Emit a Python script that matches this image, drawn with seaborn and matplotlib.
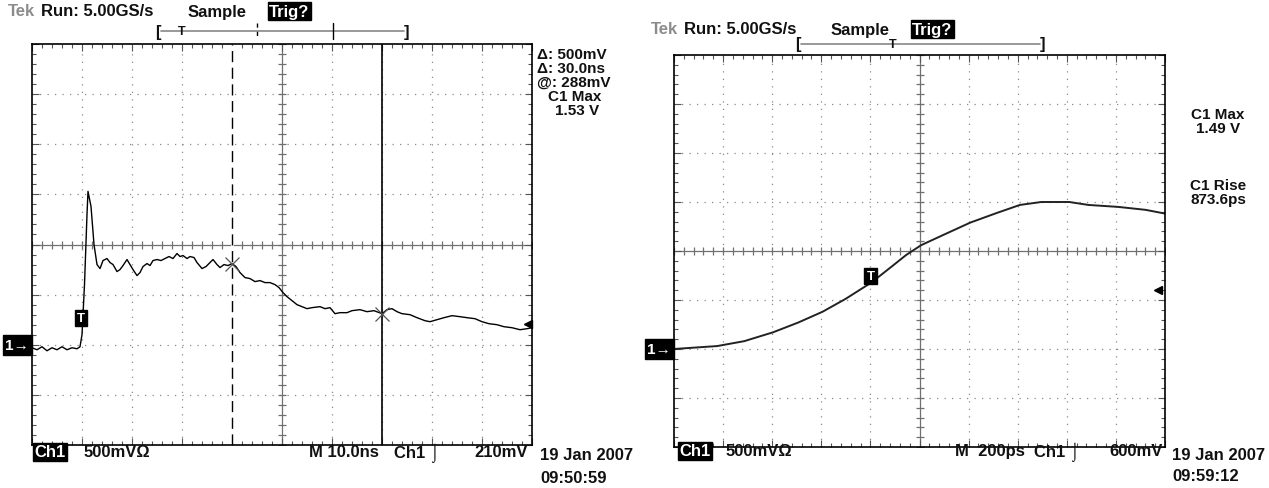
import matplotlib
matplotlib.use("Agg")
import matplotlib.pyplot as plt
import matplotlib.transforms as mtransforms
from matplotlib.lines import Line2D
import seaborn as sns
import pandas as pd
import numpy as np

# 1. Data read off the two scope screens
# left screen: 10 ns/div, 500 mV/div (time from left edge of the screen)
left_time_ns = [0, 1, 2, 3, 4, 5, 6, 7, 8, 9, 9.6, 10, 10.5, 11, 11.2, 11.8, 12.4, 13,
                13.6, 14.2, 15, 15.6, 16.2, 17, 17.6, 18.2, 19, 19.6, 20.2, 21, 21.6, 22.2,
                23, 23.6, 24.2, 25, 25.8, 26.6, 27.4, 28.2, 29, 29.6, 30.2, 31, 31.6, 32.4,
                33, 34, 34.8, 35.6, 36.2, 37, 37.6, 38.4, 39.2, 40, 40.8, 41.6, 42.6, 43.6,
                44.6, 45.6, 46.6, 47.6, 48.6, 49.4, 50.2, 51, 52, 53, 54, 55, 56, 57.6, 58.6,
                59.6, 60.6, 61.6, 63, 64, 65.6, 67, 68.4, 70, 71, 72, 73, 74, 75.6, 77, 78.6,
                79.6, 81, 82.4, 84, 85.6, 87, 88.6, 90, 91.4, 93, 94.4, 96, 97.6, 99, 100]
left_volts = [-0.03, -0.05, -0.02, -0.06, -0.03, -0.05, -0.02, -0.05, -0.03, -0.04, -0.02,
              0.10, 0.60, 1.30, 1.53, 1.38, 1.00, 0.80, 0.76, 0.84, 0.86, 0.82, 0.80, 0.73,
              0.75, 0.79, 0.85, 0.80, 0.75, 0.69, 0.72, 0.78, 0.81, 0.79, 0.84, 0.85, 0.84,
              0.86, 0.88, 0.86, 0.91, 0.88, 0.89, 0.86, 0.88, 0.87, 0.82, 0.76, 0.78, 0.82,
              0.85, 0.80, 0.77, 0.80, 0.79, 0.81, 0.78, 0.72, 0.67, 0.66, 0.63, 0.64, 0.62,
              0.62, 0.60, 0.57, 0.52, 0.48, 0.44, 0.40, 0.38, 0.36, 0.37, 0.38, 0.36, 0.37,
              0.31, 0.32, 0.32, 0.34, 0.35, 0.33, 0.34, 0.31, 0.35, 0.36, 0.33, 0.31, 0.30,
              0.27, 0.24, 0.23, 0.25, 0.27, 0.29, 0.28, 0.27, 0.26, 0.23, 0.21, 0.20, 0.18,
              0.17, 0.15, 0.16, 0.17]

# right screen: 200 ps/div, 500 mV/div
right_time_ps = [0, 176, 286, 403, 506, 605, 698, 805, 891, 946, 1007, 1111, 1207, 1317,
                 1409, 1496, 1610, 1688, 1809, 1921, 2004]
right_volts = [0.00, 0.03, 0.08, 0.17, 0.27, 0.38, 0.51, 0.68, 0.85, 0.96, 1.06, 1.18,
               1.29, 1.39, 1.47, 1.50, 1.50, 1.47, 1.45, 1.42, 1.38]

left_cursors_ns = [40, 70]
trigger_time = [9.8, 800]        # ns (left), ps (right)
trigger_level_v = [0.21, 0.60]

df_left = pd.DataFrame({'t': left_time_ns, 'v': left_volts})
df_right = pd.DataFrame({'t': right_time_ps, 'v': right_volts})

sns.set_style("white")
plt.rcParams['font.family'] = ['Liberation Sans', 'DejaVu Sans']

W, H = 1269, 489
fig = plt.figure(figsize=(W / 100, H / 100), dpi=100)


def fx(px):
    return px / W


def fy(py):
    return 1 - py / H


TXT = dict(fontsize=12, fontweight='bold', va='center', color='#111111')
READ = {**TXT, 'fontsize': 11}
GRID = '#8a8a8a'


def graticule(ax, x0, x1, y0, y1):
    xdiv = (x1 - x0) / 10
    ydiv = (y1 - y0) / 8
    ax.set_xlim(x0, x1)
    ax.set_ylim(y0, y1)
    xs = x0 + xdiv * np.arange(11)
    ys = y0 + ydiv * np.arange(9)
    xc, yc = xs[5], ys[4]
    for x in xs[1:-1]:
        if x != xc:
            ax.axvline(x, color=GRID, lw=0.9, ls=(0, (1, 5)), zorder=0)
    for y in ys[1:-1]:
        if y != yc:
            ax.axhline(y, color=GRID, lw=0.9, ls=(0, (1, 5)), zorder=0)
    ax.axvline(xc, color='#707070', lw=0.9, zorder=0)
    ax.axhline(yc, color='#707070', lw=0.9, zorder=0)
    xm = x0 + xdiv / 5 * np.arange(51)
    ym = y0 + ydiv / 5 * np.arange(41)
    ax.plot(xm, np.full_like(xm, yc), ls='none', marker='|', ms=6, mew=0.9, color='#707070', zorder=0)
    ax.plot(np.full_like(ym, xc), ym, ls='none', marker='_', ms=6, mew=0.9, color='#707070', zorder=0)
    ax.set_xticks(xs)
    ax.set_xticks(xm, minor=True)
    ax.set_yticks(ys)
    ax.set_yticks(ym, minor=True)
    ax.tick_params(which='both', direction='in', top=True, right=True, bottom=True, left=True,
                   labelbottom=False, labelleft=False, color='#555555', width=0.8)
    ax.tick_params(which='major', length=5)
    ax.tick_params(which='minor', length=3)
    ax.set_xlabel('')
    ax.set_ylabel('')
    for s in ax.spines.values():
        s.set_color('black')
        s.set_linewidth(1.2)


def ground_and_trigger(ax, level, xarrow):
    ax.annotate('1\u2192', xy=(0, 0), xycoords=('axes fraction', 'data'), xytext=(-2, 0),
                textcoords='offset points', ha='right', va='center', color='white',
                fontsize=11, fontweight='bold',
                bbox=dict(facecolor='black', edgecolor='black', pad=2.0))
    tr = mtransforms.blended_transform_factory(ax.transAxes, ax.transData)
    ax.plot([xarrow], [level], marker='<', ms=6, color='black', transform=tr, clip_on=False)


def trig_box(ax, t, level, dy):
    ax.annotate('T', xy=(t, level), xytext=(0, dy), textcoords='offset points',
                ha='center', va='center', color='white', fontsize=9.5, fontweight='bold',
                bbox=dict(facecolor='black', edgecolor='black', pad=1.5))


# --- left screen ---
ax_l = fig.add_axes([fx(32), fy(446), (532 - 32) / W, (446 - 45) / H])
sns.lineplot(data=df_left, x='t', y='v', ax=ax_l, color='black', lw=1.0, estimator=None, sort=False)
graticule(ax_l, 0, 100, -1, 3)
ax_l.axvline(left_cursors_ns[0], color='white', lw=2.0, zorder=1)
ax_l.axvline(left_cursors_ns[0], color='black', lw=1.0, ls=(0, (8, 4)), zorder=1.5)
ax_l.axvline(left_cursors_ns[1], color='black', lw=1.2, zorder=1.5)
ax_l.plot(left_cursors_ns, np.interp(left_cursors_ns, left_time_ns, left_volts), ls='none',
          marker='x', ms=10, mew=0.9, color='#555555', zorder=3)
trig_box(ax_l, trigger_time[0], trigger_level_v[0], 4)
ground_and_trigger(ax_l, trigger_level_v[0], 0.992)

# --- right screen ---
ax_r = fig.add_axes([fx(674), fy(448), (1165 - 674) / W, (448 - 56) / H])
sns.lineplot(data=df_right, x='t', y='v', ax=ax_r, color='#222222', lw=1.4, estimator=None, sort=False)
graticule(ax_r, 0, 2000, -1, 3)
trig_box(ax_r, trigger_time[1], trigger_level_v[1], 10)
ground_and_trigger(ax_r, trigger_level_v[1], 0.986)


# --- header / footer text of both screens ---
def header(x0, y, bar_y, bar_l, bar_r, t_pos, marks):
    fig.text(fx(x0), fy(y), 'Tek', **{**TXT, 'color': '#8c8c8c'})
    fig.text(fx(x0 + 33), fy(y), 'Run: 5.00GS/s', **TXT)
    fig.text(fx(x0 + 180), fy(y), 'Sample', **TXT)
    fig.text(fx(x0 + 261), fy(y), 'Trig?', **{**TXT, 'color': 'white'},
             bbox=dict(facecolor='black', edgecolor='black', pad=1))
    fig.add_artist(Line2D([fx(bar_l + 3), fx(bar_r - 3)], [fy(bar_y), fy(bar_y)], color='#888888', lw=1.2))
    fig.text(fx(bar_l), fy(bar_y), '[', ha='center', **TXT)
    fig.text(fx(bar_r), fy(bar_y), ']', ha='center', **TXT)
    fig.text(fx(t_pos), fy(bar_y), 'T', ha='center', **{**TXT, 'fontsize': 9})
    for mx, style in marks:
        fig.add_artist(Line2D([fx(mx), fx(mx)], [fy(bar_y - 8), fy(bar_y + 8)], color='black', lw=1.0, ls=style))


header(8, 12, 32, 158, 407, 182, [(257, (0, (3, 3))), (333, '-')])
header(651, 30, 45, 798, 1043, 893, [])

# footer left
fig.text(fx(34), fy(453), 'Ch1', **{**TXT, 'color': 'white'}, bbox=dict(facecolor='black', edgecolor='black', pad=1))
fig.text(fx(84), fy(453), '500mV\u03a9', **TXT)
fig.text(fx(309), fy(453), 'M 10.0ns', **TXT)
fig.text(fx(394), fy(453), 'Ch1 \u2321', **TXT)
fig.text(fx(528), fy(453), '210mV', ha='right', **TXT)
fig.text(fx(540), fy(456), '19 Jan 2007', **TXT)
fig.text(fx(540), fy(479), '09:50:59', **TXT)

# footer right
fig.text(fx(679), fy(452), 'Ch1', **{**TXT, 'color': 'white'}, bbox=dict(facecolor='black', edgecolor='black', pad=1))
fig.text(fx(726), fy(452), '500mV\u03a9', **TXT)
fig.text(fx(955), fy(452), 'M  200ps', **TXT)
fig.text(fx(1034), fy(452), 'Ch1 \u2321', **TXT)
fig.text(fx(1163), fy(452), '600mV', ha='right', **TXT)
fig.text(fx(1172), fy(456), '19 Jan 2007', **TXT)
fig.text(fx(1172), fy(477), '09:59:12', **TXT)

# cursor / measurement readouts
fig.text(fx(537), fy(55), '\u0394: 500mV', **READ)
fig.text(fx(537), fy(69), '\u0394: 30.0ns', **READ)
fig.text(fx(537), fy(83), '@: 288mV', **READ)
fig.text(fx(601), fy(97), 'C1 Max', ha='right', **READ)
fig.text(fx(599), fy(111), '1.53 V', ha='right', **READ)

fig.text(fx(1218), fy(115), 'C1 Max', ha='center', **READ)
fig.text(fx(1218), fy(129), '1.49 V', ha='center', **READ)
fig.text(fx(1218), fy(186), 'C1 Rise', ha='center', **READ)
fig.text(fx(1218), fy(200), '873.6ps', ha='center', **READ)

fig.savefig('out.png', dpi=100, facecolor='white')
